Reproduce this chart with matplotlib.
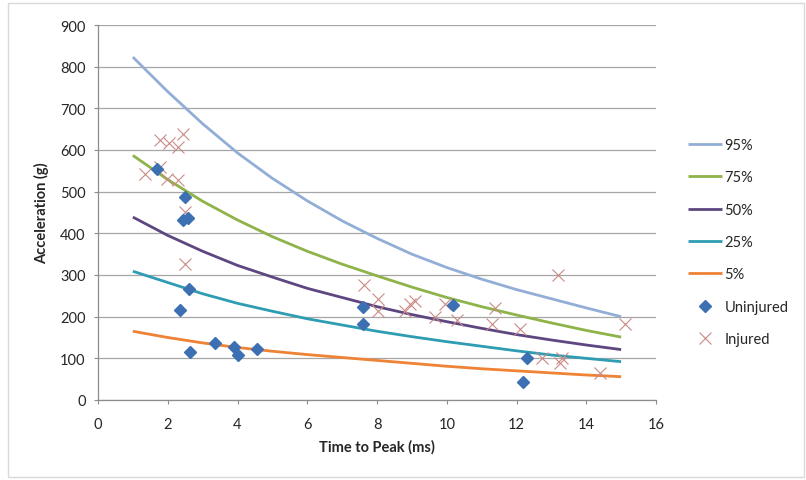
import matplotlib
matplotlib.use("Agg")
import matplotlib.pyplot as plt
from matplotlib.patches import Rectangle

plt.rcParams['font.family'] = ['Lato', 'DejaVu Sans']

# Risk curves: acceleration (g) vs time to peak (ms)
curve_x = [1, 2, 3, 4, 5, 6, 7, 8, 9, 10, 11, 12, 13, 14, 15]
risk_95 = [823, 740, 663, 593, 532, 478, 430, 388, 350, 318, 290, 265, 243, 221, 200]
risk_75 = [587, 529, 477, 432, 392, 357, 326, 298, 271, 246, 224, 204, 185, 167, 151]
risk_50 = [439, 395, 357, 323, 295, 268, 246, 224, 205, 188, 172, 157, 144, 132, 121]
risk_25 = [309, 282, 255, 232, 213, 195, 180, 165, 152, 140, 129, 118, 108, 100, 92]
risk_05 = [165, 150, 137, 126, 117, 109, 102, 95, 88, 81, 75, 70, 65, 60, 56]

curve_labels = ['95%', '75%', '50%', '25%', '5%']
curve_colors = ['#93AED6', '#8DB349', '#5E4680', '#2E9DB3', '#EE8235']

# Observed cases
uninjured_t = [1.68, 2.50, 2.43, 2.57, 2.61, 2.35, 2.64, 3.36, 3.90, 4.00, 4.55,
               7.59, 7.59, 10.19, 12.30, 12.18]
uninjured_a = [555, 488, 432, 438, 266, 217, 116, 136, 128, 109, 122,
               223, 182, 229, 101, 44]

injured_t = [1.78, 2.05, 2.30, 2.45, 1.35, 1.78, 1.97, 2.30, 2.50, 2.50,
             7.63, 8.04, 8.04, 8.81, 8.95, 9.09, 9.67, 9.95, 10.29,
             11.39, 11.29, 12.11, 12.73, 13.30, 13.25, 13.18, 14.38, 15.12]
injured_a = [623, 617, 607, 639, 543, 559, 531, 527, 451, 327,
             277, 242, 214, 214, 230, 237, 199, 231, 191,
             220, 182, 170, 101, 102, 90, 301, 65, 182]

x_ticks = [0, 2, 4, 6, 8, 10, 12, 14, 16]
y_ticks = [0, 100, 200, 300, 400, 500, 600, 700, 800, 900]

fig = plt.figure(figsize=(8.06, 4.81), dpi=100)
ax = fig.add_axes([98 / 806, 80 / 481, 558 / 806, 375 / 481])

grid_c = '#A6A6A6'
axis_c = '#8C8C8C'

for series, lab, col in zip([risk_95, risk_75, risk_50, risk_25, risk_05],
                            curve_labels, curve_colors):
    ax.plot(curve_x, series, color=col, lw=2.0, label=lab, zorder=3,
            solid_capstyle='butt', solid_joinstyle='round')

ax.plot(injured_t, injured_a, ls='none', marker='x', ms=9, mew=0.8,
        color='#C98A86', label='Injured', zorder=4)
ax.plot(uninjured_t, uninjured_a, ls='none', marker='D', ms=6.5,
        color='#3D70B3', mec='#3D70B3', label='Uninjured', zorder=5)

ax.set_xlim(0, 16)
ax.set_ylim(0, 900)
ax.set_xticks(x_ticks)
ax.set_yticks(y_ticks)
ax.yaxis.grid(True, color=grid_c, lw=0.9)
ax.set_axisbelow(True)

for s in ['top', 'right']:
    ax.spines[s].set_visible(False)
for s in ['left', 'bottom']:
    ax.spines[s].set_color(axis_c)
    ax.spines[s].set_linewidth(0.9)

ax.tick_params(axis='both', colors=axis_c, labelcolor='#262626',
               labelsize=10.5, length=3, width=0.8)
ax.tick_params(axis='x', pad=9)
ax.tick_params(axis='y', pad=6)

ax.set_xlabel('Time to Peak (ms)', fontsize=10.5, fontweight='bold',
              color='#262626', labelpad=6)
ax.set_ylabel('Acceleration (g)', fontsize=10.5, fontweight='bold',
              color='#262626', labelpad=8)

handles, labels = ax.get_legend_handles_labels()
order = ['95%', '75%', '50%', '25%', '5%', 'Uninjured', 'Injured']
hmap = dict(zip(labels, handles))
leg = fig.legend([hmap[k] for k in order], order, loc='center left',
                 bbox_to_anchor=(688 / 806, 1 - 243 / 481),
                 frameon=False, fontsize=10.5, labelspacing=1.26,
                 handlelength=2.3, handletextpad=0.2, borderpad=0,
                 borderaxespad=0)
for t in leg.get_texts():
    t.set_color('#262626')

# light frame around the whole chart
fig.patches.append(Rectangle((8 / 806, 3 / 481), 796 / 806, 474 / 481,
                             transform=fig.transFigure, fill=False,
                             edgecolor='#D9D9D9', lw=1.0))

fig.savefig('out.png', dpi=100)
